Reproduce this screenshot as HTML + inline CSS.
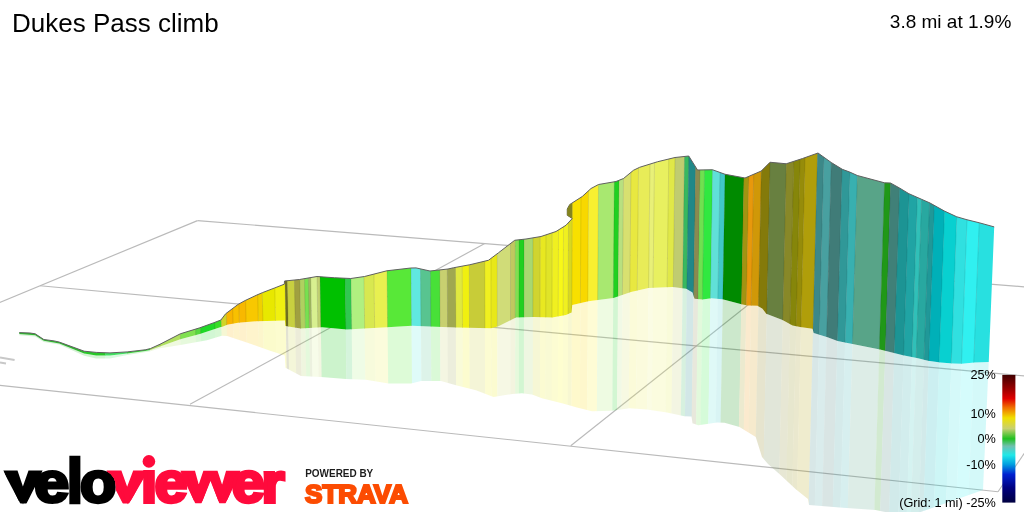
<!DOCTYPE html>
<html lang="en"><head><meta charset="utf-8"><title>Dukes Pass climb</title>
<style>html,body{margin:0;padding:0;background:#fff;overflow:hidden}svg{display:block}</style>
</head><body>
<svg width="1024" height="512" viewBox="0 0 1024 512">
<defs>
<clipPath id="cw"><polygon points="19.25,332.6 30,333 35.2,333.8 43.8,339.5 54.1,340.9 59.3,342.1 84.2,351.2 96.25,352.4 110,352.9 127.2,351.9 145.2,349.8 150.4,348.6 160,344.25 180.3,333.8 199.8,327.8 213.9,322.7 220.9,320 225.6,313.8 238.1,304.4 245.2,300.5 256.9,295 262.3,292.7 274.8,287.9 284.3,284.2 284.5,281 299.5,279.5 317,276.5 334.5,277.75 350.75,278.5 364.5,276.5 387,270.75 410.75,268 416,267.9 430,271 448,269 453.5,267.75 469.75,264.75 488.5,260.25 498.5,252.75 514.75,240.25 526,239 541,236.5 556,231.5 566,225.25 572.25,218.5 567.25,215.25 567.25,209 569.75,204.5 582.25,196.5 591,188.5 598.5,184.5 616,181.5 623.5,178.5 633.5,170.25 639.75,167.25 657.5,161.75 675,157.5 688.75,156 697.5,170 712.5,169.75 725,174.25 745,178 761.25,171 770,162.25 786.25,163.75 802.5,158.5 818,153 831.25,162.5 842.3,169.3 849.8,172.1 857.3,175.5 884.5,182.8 890.5,183 899.5,188 908.9,193.7 921.6,199.3 930,203 944.5,211.1 956.7,216.75 967,219.75 979.2,222.75 994.2,226.9 988.75,362 974.25,362.5 961.75,363.75 953,363.5 940.5,362.5 928,360.75 918,358.25 903,355.25 893,352.75 880,349.5 852.5,344 837.5,341 827.5,337.2 813.75,333.1 812.5,328.75 800,327 792.5,325.5 782.5,320 766.25,313.75 762.5,308.75 757.5,305.75 747.5,305.5 742.5,304.5 722.5,299.25 711.25,298.25 702.5,299.5 694.5,298.75 692.5,292.5 686.25,288.75 672.5,287 648.5,288 631,292 613.5,298 588.5,301.25 572.25,305 571.5,312.5 566,315 552.25,317.5 533.5,317 516,317.5 498.5,326.25 491,328.25 456,327.5 429.5,326.5 412,325.75 387,327.25 364.5,328.5 347,329.5 322,327.25 300.6,328.4 285.4,326 285,320.5 256.9,321.3 238.1,322.7 227.2,324.7 222.5,326.75 220.9,327 199.8,334.1 180.3,339.25 160,346.6 150.4,349.9 145.2,351 127.2,353.4 110,355.6 96.25,355.6 84.2,353.6 59.3,343.4 43.8,340.8 35.2,335.2 19.25,334"/></clipPath>
<clipPath id="cr"><polygon points="19.25,334 35.2,335.2 43.8,340.8 59.3,343.4 84.2,353.6 96.25,355.6 110,355.6 127.2,353.4 145.2,351 150.4,349.9 160,346.6 180.3,339.25 199.8,334.1 220.9,327 222.5,326.75 227.2,324.7 238.1,322.7 256.9,321.3 285,320.5 285.4,326 300.6,328.4 322,327.25 347,329.5 364.5,328.5 387,327.25 412,325.75 429.5,326.5 456,327.5 491,328.25 498.5,326.25 516,317.5 533.5,317 552.25,317.5 566,315 571.5,312.5 572.25,305 588.5,301.25 613.5,298 631,292 648.5,288 672.5,287 686.25,288.75 692.5,292.5 694.5,298.75 702.5,299.5 711.25,298.25 722.5,299.25 742.5,304.5 747.5,305.5 757.5,305.75 762.5,308.75 766.25,313.75 782.5,320 792.5,325.5 800,327 812.5,328.75 813.75,333.1 827.5,337.2 837.5,341 852.5,344 880,349.5 893,352.75 903,355.25 918,358.25 928,360.75 940.5,362.5 953,363.5 961.75,363.75 974.25,362.5 988.75,362 983,490 915,514 895,514 875.5,510 843,507.75 809,505 808,499 795.5,489 780.5,475 768,464 762,457 755.75,437 739.5,427 724.5,422.75 717,422.5 698.25,425.25 692.5,423.25 691.5,416.5 684.5,416.25 667,412.5 647,409.5 629.5,408.25 612,410.75 592,411.25 577,407.5 562,403.25 542,398.25 532,394.5 522,393.25 512,394 493.5,397 476,390.25 456,385.25 441,381 421,381 411,383.5 388.5,383.5 366,379.75 346,379 321,377 301,376 285.5,367.75 284.75,355.5 269.4,350.5 247.5,342.7 227.2,336.1 221.7,335.7 206.9,340.3 180.3,345 160,348.2 150.4,351.3 127.2,355 110,358.4 96.25,358.6 84.2,355.8 59.3,344.6 43.8,342 35.2,336.5 19.25,335.2"/></clipPath>
<linearGradient id="lg" x1="0" y1="0" x2="0" y2="1">
<stop offset="0" stop-color="#400000"/><stop offset="0.116" stop-color="#a00000"/><stop offset="0.186" stop-color="#e00000"/>
<stop offset="0.256" stop-color="#f07000"/><stop offset="0.337" stop-color="#f0e000"/><stop offset="0.42" stop-color="#c8d070"/>
<stop offset="0.5" stop-color="#20c020"/><stop offset="0.558" stop-color="#70c0b0"/><stop offset="0.628" stop-color="#20e8e8"/>
<stop offset="0.70" stop-color="#00a0e0"/><stop offset="0.78" stop-color="#0020d0"/><stop offset="0.884" stop-color="#000080"/>
<stop offset="1" stop-color="#000040"/></linearGradient>
<clipPath id="cv1"><polygon points="0,465 46,465 26,504.5 20.8,504.5"/></clipPath>
<clipPath id="co"><path clip-rule="evenodd" d="M0 440H300V512H0Z M80.35 486.7a17.7 17.4 0 1 0 35.4 0a17.7 17.4 0 1 0 -35.4 0Z"/></clipPath>
<clipPath id="cv2" clip-path="url(#co)"><polygon points="103,465 151.5,465 128.5,504.5 123.3,504.5"/></clipPath>
<clipPath id="ci1"><rect x="140" y="469.9" width="20" height="40"/></clipPath>
<clipPath id="cw1"><polygon points="177,465 244,465 225,504.5 219.8,504.5 210.5,481 201,504.5 195.8,504.5"/></clipPath>
</defs>
<rect width="1024" height="512" fill="#fff"/>
<g stroke="#bababa" stroke-width="1.15" fill="none">
<line x1="-10" y1="306.4" x2="197.5" y2="220.6"/>
<line x1="197.5" y1="220.6" x2="1030" y2="287.3"/>
<line x1="40" y1="285.8" x2="1030" y2="376.5"/>
<line x1="-10" y1="384.3" x2="998" y2="491.8"/>
<line x1="484.75" y1="243.5" x2="190" y2="404.3"/>
<line x1="770" y1="287.5" x2="570.75" y2="445.75"/>
<line x1="998" y1="491.8" x2="1030" y2="445"/>
</g>
<path d="M0 357.5L14.6 360M0 362.6L6 363.6" stroke="#c8c8c8" stroke-width="2" fill="none"/>
<g clip-path="url(#cr)"><g opacity="0.2">
<polygon points="16.81,280 81.72,280 90.41,520 26.8,520" fill="#2db82d"/>
<polygon points="81.42,280 102.8,280 111.06,520 90.11,520" fill="#28c828"/>
<polygon points="102.5,280 124.96,280 132.78,520 110.76,520" fill="#40e060"/>
<polygon points="124.66,280 148.2,280 155.55,520 132.48,520" fill="#38d038"/>
<polygon points="147.9,280 158.39,280 165.53,520 155.25,520" fill="#a8d860"/>
<polygon points="158.09,280 179.09,280 185.82,520 165.23,520" fill="#b0e060"/>
<polygon points="178.79,280 194.59,280 201,520 185.52,520" fill="#80e050"/>
<polygon points="194.29,280 199.65,280 205.96,520 200.7,520" fill="#58d840"/>
<polygon points="199.35,280 213.94,280 219.96,520 205.66,520" fill="#20d828"/>
<polygon points="213.64,280 220.58,280 226.47,520 219.66,520" fill="#38dc28"/>
<polygon points="220.28,280 225.9,280 231.68,520 226.17,520" fill="#d0d428"/>
<polygon points="225.6,280 232.33,280 237.98,520 231.38,520" fill="#f8b400"/>
<polygon points="232.03,280 238.65,280 244.17,520 237.68,520" fill="#f8c000"/>
<polygon points="238.35,280 245.44,280 250.83,520 243.87,520" fill="#f8b800"/>
<polygon points="245.14,280 257.69,280 262.83,520 250.53,520" fill="#f8c800"/>
<polygon points="257.39,280 262.33,280 267.38,520 262.53,520" fill="#f0d000"/>
<polygon points="262.03,280 274.94,280 279.73,520 267.08,520" fill="#e8e800"/>
<polygon points="274.64,280 285.28,280 289.86,520 279.43,520" fill="#f0f010"/>
<polygon points="284.98,280 287.59,280 292.12,520 289.56,520" fill="#707020"/>
<polygon points="287.29,280 294.7,280 299.09,520 291.82,520" fill="#c8d040"/>
<polygon points="294.4,280 300.11,280 304.39,520 298.79,520" fill="#a0a040"/>
<polygon points="299.81,280 304.82,280 309.01,520 304.09,520" fill="#b0d060"/>
<polygon points="304.52,280 308.73,280 312.84,520 308.71,520" fill="#78e050"/>
<polygon points="308.43,280 311.14,280 315.2,520 312.54,520" fill="#a0b860"/>
<polygon points="310.84,280 317.36,280 321.29,520 314.9,520" fill="#d8f090"/>
<polygon points="317.06,280 320.35,280 324.23,520 320.99,520" fill="#c0d070"/>
<polygon points="320.05,280 345.32,280 348.69,520 323.93,520" fill="#00c000"/>
<polygon points="345.02,280 351.32,280 354.57,520 348.39,520" fill="#30c850"/>
<polygon points="351.02,280 364.34,280 367.33,520 354.27,520" fill="#b0f080"/>
<polygon points="364.04,280 374.37,280 377.15,520 367.03,520" fill="#d8e850"/>
<polygon points="374.07,280 387.4,280 389.92,520 376.85,520" fill="#e8f050"/>
<polygon points="387.1,280 411.4,280 413.44,520 389.62,520" fill="#58e838"/>
<polygon points="411.1,280 420.89,280 422.73,520 413.14,520" fill="#60e8e0"/>
<polygon points="420.59,280 430.86,280 432.51,520 422.43,520" fill="#58c490"/>
<polygon points="430.56,280 440.11,280 441.57,520 432.21,520" fill="#48e038"/>
<polygon points="439.81,280 447.61,280 448.92,520 441.27,520" fill="#c8d070"/>
<polygon points="447.31,280 455.86,280 457,520 448.62,520" fill="#a0a850"/>
<polygon points="455.56,280 462.61,280 463.61,520 456.7,520" fill="#e0e840"/>
<polygon points="462.31,280 469.6,280 470.47,520 463.31,520" fill="#f0f010"/>
<polygon points="469.3,280 485.09,280 485.64,520 470.17,520" fill="#c8cc38"/>
<polygon points="484.79,280 491.34,280 491.76,520 485.34,520" fill="#f0f020"/>
<polygon points="491.04,280 497.58,280 497.88,520 491.46,520" fill="#e8e818"/>
<polygon points="497.28,280 510.8,280 510.83,520 497.58,520" fill="#d0dc78"/>
<polygon points="510.5,280 515.54,280 515.47,520 510.53,520" fill="#c0c860"/>
<polygon points="515.24,280 519.28,280 519.14,520 515.17,520" fill="#80e050"/>
<polygon points="518.98,280 524.26,280 524.02,520 518.84,520" fill="#20d020"/>
<polygon points="523.96,280 533.23,280 532.8,520 523.72,520" fill="#a8d870"/>
<polygon points="532.93,280 540.45,280 539.88,520 532.5,520" fill="#d0d430"/>
<polygon points="540.15,280 546.17,280 545.49,520 539.58,520" fill="#e8e820"/>
<polygon points="545.87,280 552.39,280 551.58,520 545.19,520" fill="#e0e428"/>
<polygon points="552.09,280 558.61,280 557.67,520 551.28,520" fill="#f0f020"/>
<polygon points="558.31,280 563.57,280 562.54,520 557.37,520" fill="#f8f818"/>
<polygon points="563.27,280 568.53,280 567.39,520 562.24,520" fill="#f0f020"/>
<polygon points="568.23,280 572.24,280 571.03,520 567.09,520" fill="#d8d820"/>
<polygon points="571.94,280 580.82,280 579.44,520 570.73,520" fill="#f8e000"/>
<polygon points="580.52,280 588.23,280 586.7,520 579.14,520" fill="#f8d800"/>
<polygon points="587.93,280 598.11,280 596.38,520 586.4,520" fill="#f8f030"/>
<polygon points="597.81,280 613.71,280 611.67,520 596.08,520" fill="#a8e870"/>
<polygon points="613.41,280 618.41,280 616.27,520 611.37,520" fill="#20d020"/>
<polygon points="618.11,280 622.86,280 620.62,520 615.97,520" fill="#b8e080"/>
<polygon points="622.56,280 630.23,280 627.85,520 620.32,520" fill="#d8e070"/>
<polygon points="629.93,280 637.62,280 635.09,520 627.55,520" fill="#e8e840"/>
<polygon points="637.32,280 648.97,280 646.21,520 634.79,520" fill="#e8ec58"/>
<polygon points="648.67,280 653.41,280 650.56,520 645.91,520" fill="#e8f078"/>
<polygon points="653.11,280 667.47,280 664.34,520 650.26,520" fill="#e8f060"/>
<polygon points="667.17,280 673.64,280 670.38,520 664.04,520" fill="#e0e848"/>
<polygon points="673.34,280 683.03,280 679.58,520 670.08,520" fill="#c0cc70"/>
<polygon points="682.73,280 687.23,280 683.7,520 679.28,520" fill="#38b860"/>
<polygon points="686.93,280 694.07,280 690.4,520 683.4,520" fill="#208888"/>
<polygon points="693.77,280 698.58,280 694.82,520 690.1,520" fill="#8a8a50"/>
<polygon points="698.28,280 703.03,280 699.18,520 694.52,520" fill="#70e050"/>
<polygon points="702.73,280 710.96,280 706.95,520 698.88,520" fill="#30e840"/>
<polygon points="710.66,280 718.44,280 714.28,520 706.65,520" fill="#60e0d8"/>
<polygon points="718.14,280 723.42,280 719.16,520 713.98,520" fill="#40c8c8"/>
<polygon points="723.12,280 742.07,280 737.44,520 718.86,520" fill="#008a00"/>
<polygon points="741.77,280 747,280 742.27,520 737.14,520" fill="#a29412"/>
<polygon points="746.7,280 751.92,280 747.08,520 741.97,520" fill="#e8980c"/>
<polygon points="751.62,280 759.29,280 754.3,520 746.78,520" fill="#d09808"/>
<polygon points="758.99,280 767.77,280 762.61,520 754,520" fill="#847a0a"/>
<polygon points="767.47,280 783.89,280 778.41,520 762.31,520" fill="#688040"/>
<polygon points="783.59,280 791.27,280 785.64,520 778.11,520" fill="#888828"/>
<polygon points="790.97,280 797.41,280 791.65,520 785.34,520" fill="#86860a"/>
<polygon points="797.11,280 802.32,280 796.46,520 791.35,520" fill="#968c0a"/>
<polygon points="802.02,280 814.58,280 808.48,520 796.16,520" fill="#b09e0a"/>
<polygon points="814.28,280 820.86,280 814.63,520 808.18,520" fill="#3c8888"/>
<polygon points="820.56,280 828.43,280 822.05,520 814.33,520" fill="#48a0a0"/>
<polygon points="828.13,280 839.25,280 832.65,520 821.75,520" fill="#407c78"/>
<polygon points="838.95,280 847.06,280 840.31,520 832.35,520" fill="#309898"/>
<polygon points="846.76,280 854.59,280 847.68,520 840.01,520" fill="#38b0b0"/>
<polygon points="854.29,280 881.78,280 874.32,520 847.38,520" fill="#58a488"/>
<polygon points="881.48,280 887.74,280 880.16,520 874.02,520" fill="#209818"/>
<polygon points="887.44,280 896.82,280 889.06,520 879.86,520" fill="#408078"/>
<polygon points="896.52,280 906.34,280 898.39,520 888.76,520" fill="#1c9494"/>
<polygon points="906.04,280 914.8,280 906.68,520 898.09,520" fill="#20a4a4"/>
<polygon points="914.5,280 919.14,280 910.93,520 906.38,520" fill="#30c0b8"/>
<polygon points="918.84,280 927.11,280 918.73,520 910.63,520" fill="#28a8a0"/>
<polygon points="926.81,280 931.87,280 923.4,520 918.43,520" fill="#209898"/>
<polygon points="931.57,280 942.31,280 933.63,520 923.1,520" fill="#00b0b8"/>
<polygon points="942.01,280 954.65,280 945.72,520 933.33,520" fill="#08d0d0"/>
<polygon points="954.35,280 965.01,280 955.87,520 945.42,520" fill="#30e0e0"/>
<polygon points="964.71,280 977.26,280 967.88,520 955.57,520" fill="#30f0f0"/>
<polygon points="976.96,280 994.15,280 984.42,520 967.58,520" fill="#28e0e0"/>
</g></g>
<g clip-path="url(#cw)">
<polygon points="10.98,140 76.66,140 85.35,380 20.97,380" fill="#2db82d"/>
<polygon points="76.36,140 97.97,140 106.24,380 85.05,380" fill="#28c828"/>
<polygon points="97.67,140 120.4,140 128.21,380 105.94,380" fill="#40e060"/>
<polygon points="120.1,140 143.91,140 151.26,380 127.91,380" fill="#38d038"/>
<polygon points="143.61,140 154.22,140 161.36,380 150.96,380" fill="#a8d860"/>
<polygon points="153.92,140 175.17,140 181.89,380 161.06,380" fill="#b0e060"/>
<polygon points="174.87,140 190.85,140 197.26,380 181.59,380" fill="#80e050"/>
<polygon points="190.55,140 195.97,140 202.28,380 196.96,380" fill="#58d840"/>
<polygon points="195.67,140 210.42,140 216.45,380 201.98,380" fill="#20d828"/>
<polygon points="210.12,140 217.15,140 223.03,380 216.15,380" fill="#38dc28"/>
<polygon points="216.85,140 222.53,140 228.31,380 222.73,380" fill="#d0d428"/>
<polygon points="222.23,140 229.03,140 234.68,380 228.01,380" fill="#f8b400"/>
<polygon points="228.73,140 235.43,140 240.95,380 234.38,380" fill="#f8c000"/>
<polygon points="235.13,140 242.3,140 247.69,380 240.65,380" fill="#f8b800"/>
<polygon points="242,140 254.69,140 259.83,380 247.39,380" fill="#f8c800"/>
<polygon points="254.39,140 259.39,140 264.44,380 259.53,380" fill="#f0d000"/>
<polygon points="259.09,140 272.15,140 276.94,380 264.14,380" fill="#e8e800"/>
<polygon points="271.85,140 282.61,140 287.19,380 276.64,380" fill="#f0f010"/>
<polygon points="282.31,140 284.94,140 289.48,380 286.89,380" fill="#707020"/>
<polygon points="284.64,140 292.14,140 296.53,380 289.18,380" fill="#c8d040"/>
<polygon points="291.84,140 297.61,140 301.89,380 296.23,380" fill="#a0a040"/>
<polygon points="297.31,140 302.38,140 306.57,380 301.59,380" fill="#b0d060"/>
<polygon points="302.08,140 306.34,140 310.45,380 306.27,380" fill="#78e050"/>
<polygon points="306.04,140 308.77,140 312.83,380 310.15,380" fill="#a0b860"/>
<polygon points="308.47,140 315.06,140 319,380 312.53,380" fill="#d8f090"/>
<polygon points="314.76,140 318.09,140 321.97,380 318.7,380" fill="#c0d070"/>
<polygon points="317.79,140 343.36,140 346.73,380 321.67,380" fill="#00c000"/>
<polygon points="343.06,140 349.43,140 352.67,380 346.43,380" fill="#30c850"/>
<polygon points="349.13,140 362.6,140 365.59,380 352.37,380" fill="#b0f080"/>
<polygon points="362.3,140 372.74,140 375.53,380 365.29,380" fill="#d8e850"/>
<polygon points="372.44,140 385.93,140 388.45,380 375.23,380" fill="#e8f050"/>
<polygon points="385.63,140 410.21,140 412.25,380 388.15,380" fill="#58e838"/>
<polygon points="409.91,140 419.81,140 421.65,380 411.95,380" fill="#60e8e0"/>
<polygon points="419.51,140 429.9,140 431.55,380 421.35,380" fill="#58c490"/>
<polygon points="429.6,140 439.26,140 440.72,380 431.25,380" fill="#48e038"/>
<polygon points="438.96,140 446.85,140 448.15,380 440.42,380" fill="#c8d070"/>
<polygon points="446.55,140 455.2,140 456.33,380 447.85,380" fill="#a0a850"/>
<polygon points="454.9,140 462.02,140 463.03,380 456.03,380" fill="#e0e840"/>
<polygon points="461.72,140 469.1,140 469.96,380 462.73,380" fill="#f0f010"/>
<polygon points="468.8,140 484.77,140 485.32,380 469.66,380" fill="#c8cc38"/>
<polygon points="484.47,140 491.09,140 491.51,380 485.02,380" fill="#f0f020"/>
<polygon points="490.79,140 497.41,140 497.71,380 491.21,380" fill="#e8e818"/>
<polygon points="497.11,140 510.79,140 510.82,380 497.41,380" fill="#d0dc78"/>
<polygon points="510.49,140 515.58,140 515.51,380 510.52,380" fill="#c0c860"/>
<polygon points="515.28,140 519.36,140 519.22,380 515.21,380" fill="#80e050"/>
<polygon points="519.06,140 524.4,140 524.16,380 518.92,380" fill="#20d020"/>
<polygon points="524.1,140 533.47,140 533.05,380 523.86,380" fill="#a8d870"/>
<polygon points="533.17,140 540.78,140 540.21,380 532.75,380" fill="#d0d430"/>
<polygon points="540.48,140 546.57,140 545.89,380 539.91,380" fill="#e8e820"/>
<polygon points="546.27,140 552.86,140 552.05,380 545.59,380" fill="#e0e428"/>
<polygon points="552.56,140 559.15,140 558.22,380 551.75,380" fill="#f0f020"/>
<polygon points="558.85,140 564.17,140 563.14,380 557.92,380" fill="#f8f818"/>
<polygon points="563.87,140 569.19,140 568.06,380 562.84,380" fill="#f0f020"/>
<polygon points="568.89,140 572.95,140 571.74,380 567.76,380" fill="#d8d820"/>
<polygon points="572.65,140 581.63,140 580.25,380 571.44,380" fill="#f8e000"/>
<polygon points="581.33,140 589.12,140 587.59,380 579.95,380" fill="#f8d800"/>
<polygon points="588.82,140 599.12,140 597.39,380 587.29,380" fill="#f8f030"/>
<polygon points="598.82,140 614.91,140 612.86,380 597.09,380" fill="#a8e870"/>
<polygon points="614.61,140 619.66,140 617.52,380 612.56,380" fill="#20d020"/>
<polygon points="619.36,140 624.16,140 621.93,380 617.22,380" fill="#b8e080"/>
<polygon points="623.86,140 631.62,140 629.24,380 621.63,380" fill="#d8e070"/>
<polygon points="631.32,140 639.09,140 636.56,380 628.94,380" fill="#e8e840"/>
<polygon points="638.79,140 650.58,140 647.82,380 636.26,380" fill="#e8ec58"/>
<polygon points="650.28,140 655.07,140 652.22,380 647.52,380" fill="#e8f078"/>
<polygon points="654.77,140 669.3,140 666.17,380 651.92,380" fill="#e8f060"/>
<polygon points="669,140 675.54,140 672.28,380 665.87,380" fill="#e0e848"/>
<polygon points="675.24,140 685.04,140 681.59,380 671.98,380" fill="#c0cc70"/>
<polygon points="684.74,140 689.29,140 685.75,380 681.29,380" fill="#38b860"/>
<polygon points="688.99,140 696.21,140 692.54,380 685.45,380" fill="#208888"/>
<polygon points="695.91,140 700.77,140 697.01,380 692.24,380" fill="#8a8a50"/>
<polygon points="700.47,140 705.28,140 701.43,380 696.71,380" fill="#70e050"/>
<polygon points="704.98,140 713.3,140 709.29,380 701.13,380" fill="#30e840"/>
<polygon points="713,140 720.86,140 716.7,380 708.99,380" fill="#60e0d8"/>
<polygon points="720.56,140 725.91,140 721.65,380 716.4,380" fill="#40c8c8"/>
<polygon points="725.61,140 744.78,140 740.14,380 721.35,380" fill="#008a00"/>
<polygon points="744.48,140 749.77,140 745.03,380 739.84,380" fill="#a29412"/>
<polygon points="749.47,140 754.74,140 749.9,380 744.73,380" fill="#e8980c"/>
<polygon points="754.44,140 762.19,140 757.21,380 749.6,380" fill="#d09808"/>
<polygon points="761.89,140 770.78,140 765.62,380 756.91,380" fill="#847a0a"/>
<polygon points="770.48,140 787.09,140 781.61,380 765.32,380" fill="#688040"/>
<polygon points="786.79,140 794.55,140 788.92,380 781.31,380" fill="#888828"/>
<polygon points="794.25,140 800.76,140 795.01,380 788.62,380" fill="#86860a"/>
<polygon points="800.46,140 805.73,140 799.88,380 794.71,380" fill="#968c0a"/>
<polygon points="805.43,140 818.13,140 812.03,380 799.58,380" fill="#b09e0a"/>
<polygon points="817.83,140 824.49,140 818.27,380 811.73,380" fill="#3c8888"/>
<polygon points="824.19,140 832.15,140 825.77,380 817.97,380" fill="#48a0a0"/>
<polygon points="831.85,140 843.1,140 836.5,380 825.47,380" fill="#407c78"/>
<polygon points="842.8,140 851,140 844.25,380 836.2,380" fill="#309898"/>
<polygon points="850.7,140 858.62,140 851.71,380 843.95,380" fill="#38b0b0"/>
<polygon points="858.32,140 886.13,140 878.67,380 851.41,380" fill="#58a488"/>
<polygon points="885.83,140 892.16,140 884.58,380 878.37,380" fill="#209818"/>
<polygon points="891.86,140 901.35,140 893.59,380 884.28,380" fill="#408078"/>
<polygon points="901.05,140 910.98,140 903.03,380 893.29,380" fill="#1c9494"/>
<polygon points="910.68,140 919.54,140 911.42,380 902.73,380" fill="#20a4a4"/>
<polygon points="919.24,140 923.93,140 915.72,380 911.12,380" fill="#30c0b8"/>
<polygon points="923.63,140 931.99,140 923.62,380 915.42,380" fill="#28a8a0"/>
<polygon points="931.69,140 936.81,140 928.34,380 923.32,380" fill="#209898"/>
<polygon points="936.51,140 947.37,140 938.69,380 928.04,380" fill="#00b0b8"/>
<polygon points="947.07,140 959.86,140 950.93,380 938.39,380" fill="#08d0d0"/>
<polygon points="959.56,140 970.34,140 961.2,380 950.63,380" fill="#30e0e0"/>
<polygon points="970.04,140 982.74,140 973.35,380 960.9,380" fill="#30f0f0"/>
<polygon points="982.44,140 999.82,140 990.1,380 973.05,380" fill="#28e0e0"/>
<g stroke="#000" stroke-opacity="0.13" stroke-width="0.8">
<line x1="153.92" y1="140" x2="161.06" y2="380"/>
<line x1="174.87" y1="140" x2="181.59" y2="380"/>
<line x1="190.55" y1="140" x2="196.96" y2="380"/>
<line x1="195.67" y1="140" x2="201.98" y2="380"/>
<line x1="210.12" y1="140" x2="216.15" y2="380"/>
<line x1="216.85" y1="140" x2="222.73" y2="380"/>
<line x1="222.23" y1="140" x2="228.01" y2="380"/>
<line x1="228.73" y1="140" x2="234.38" y2="380"/>
<line x1="235.13" y1="140" x2="240.65" y2="380"/>
<line x1="242" y1="140" x2="247.39" y2="380"/>
<line x1="254.39" y1="140" x2="259.53" y2="380"/>
<line x1="259.09" y1="140" x2="264.14" y2="380"/>
<line x1="271.85" y1="140" x2="276.64" y2="380"/>
<line x1="282.31" y1="140" x2="286.89" y2="380"/>
<line x1="284.64" y1="140" x2="289.18" y2="380"/>
<line x1="291.84" y1="140" x2="296.23" y2="380"/>
<line x1="297.31" y1="140" x2="301.59" y2="380"/>
<line x1="302.08" y1="140" x2="306.27" y2="380"/>
<line x1="306.04" y1="140" x2="310.15" y2="380"/>
<line x1="308.47" y1="140" x2="312.53" y2="380"/>
<line x1="314.76" y1="140" x2="318.7" y2="380"/>
<line x1="317.79" y1="140" x2="321.67" y2="380"/>
<line x1="343.06" y1="140" x2="346.43" y2="380"/>
<line x1="349.13" y1="140" x2="352.37" y2="380"/>
<line x1="362.3" y1="140" x2="365.29" y2="380"/>
<line x1="372.44" y1="140" x2="375.23" y2="380"/>
<line x1="385.63" y1="140" x2="388.15" y2="380"/>
<line x1="409.91" y1="140" x2="411.95" y2="380"/>
<line x1="419.51" y1="140" x2="421.35" y2="380"/>
<line x1="429.6" y1="140" x2="431.25" y2="380"/>
<line x1="438.96" y1="140" x2="440.42" y2="380"/>
<line x1="446.55" y1="140" x2="447.85" y2="380"/>
<line x1="454.9" y1="140" x2="456.03" y2="380"/>
<line x1="461.72" y1="140" x2="462.73" y2="380"/>
<line x1="468.8" y1="140" x2="469.66" y2="380"/>
<line x1="484.47" y1="140" x2="485.02" y2="380"/>
<line x1="490.79" y1="140" x2="491.21" y2="380"/>
<line x1="497.11" y1="140" x2="497.41" y2="380"/>
<line x1="510.49" y1="140" x2="510.52" y2="380"/>
<line x1="515.28" y1="140" x2="515.21" y2="380"/>
<line x1="519.06" y1="140" x2="518.92" y2="380"/>
<line x1="524.1" y1="140" x2="523.86" y2="380"/>
<line x1="533.17" y1="140" x2="532.75" y2="380"/>
<line x1="540.48" y1="140" x2="539.91" y2="380"/>
<line x1="546.27" y1="140" x2="545.59" y2="380"/>
<line x1="552.56" y1="140" x2="551.75" y2="380"/>
<line x1="558.85" y1="140" x2="557.92" y2="380"/>
<line x1="563.87" y1="140" x2="562.84" y2="380"/>
<line x1="568.89" y1="140" x2="567.76" y2="380"/>
<line x1="572.65" y1="140" x2="571.44" y2="380"/>
<line x1="581.33" y1="140" x2="579.95" y2="380"/>
<line x1="588.82" y1="140" x2="587.29" y2="380"/>
<line x1="598.82" y1="140" x2="597.09" y2="380"/>
<line x1="614.61" y1="140" x2="612.56" y2="380"/>
<line x1="619.36" y1="140" x2="617.22" y2="380"/>
<line x1="623.86" y1="140" x2="621.63" y2="380"/>
<line x1="631.32" y1="140" x2="628.94" y2="380"/>
<line x1="638.79" y1="140" x2="636.26" y2="380"/>
<line x1="650.28" y1="140" x2="647.52" y2="380"/>
<line x1="654.77" y1="140" x2="651.92" y2="380"/>
<line x1="669" y1="140" x2="665.87" y2="380"/>
<line x1="675.24" y1="140" x2="671.98" y2="380"/>
<line x1="684.74" y1="140" x2="681.29" y2="380"/>
<line x1="688.99" y1="140" x2="685.45" y2="380"/>
<line x1="695.91" y1="140" x2="692.24" y2="380"/>
<line x1="700.47" y1="140" x2="696.71" y2="380"/>
<line x1="704.98" y1="140" x2="701.13" y2="380"/>
<line x1="713" y1="140" x2="708.99" y2="380"/>
<line x1="720.56" y1="140" x2="716.4" y2="380"/>
<line x1="725.61" y1="140" x2="721.35" y2="380"/>
<line x1="744.48" y1="140" x2="739.84" y2="380"/>
<line x1="749.47" y1="140" x2="744.73" y2="380"/>
<line x1="754.44" y1="140" x2="749.6" y2="380"/>
<line x1="761.89" y1="140" x2="756.91" y2="380"/>
<line x1="770.48" y1="140" x2="765.32" y2="380"/>
<line x1="786.79" y1="140" x2="781.31" y2="380"/>
<line x1="794.25" y1="140" x2="788.62" y2="380"/>
<line x1="800.46" y1="140" x2="794.71" y2="380"/>
<line x1="805.43" y1="140" x2="799.58" y2="380"/>
<line x1="817.83" y1="140" x2="811.73" y2="380"/>
<line x1="824.19" y1="140" x2="817.97" y2="380"/>
<line x1="831.85" y1="140" x2="825.47" y2="380"/>
<line x1="842.8" y1="140" x2="836.2" y2="380"/>
<line x1="850.7" y1="140" x2="843.95" y2="380"/>
<line x1="858.32" y1="140" x2="851.41" y2="380"/>
<line x1="885.83" y1="140" x2="878.37" y2="380"/>
<line x1="891.86" y1="140" x2="884.28" y2="380"/>
<line x1="901.05" y1="140" x2="893.29" y2="380"/>
<line x1="910.68" y1="140" x2="902.73" y2="380"/>
<line x1="919.24" y1="140" x2="911.12" y2="380"/>
<line x1="923.63" y1="140" x2="915.42" y2="380"/>
<line x1="931.69" y1="140" x2="923.32" y2="380"/>
<line x1="936.51" y1="140" x2="928.04" y2="380"/>
<line x1="947.07" y1="140" x2="938.39" y2="380"/>
<line x1="959.56" y1="140" x2="950.63" y2="380"/>
<line x1="970.04" y1="140" x2="960.9" y2="380"/>
<line x1="982.44" y1="140" x2="973.05" y2="380"/>
</g>
</g>
<polyline points="19.25,332.6 30,333 35.2,333.8 43.8,339.5 54.1,340.9 59.3,342.1 84.2,351.2 96.25,352.4 110,352.9 127.2,351.9 145.2,349.8 150.4,348.6 160,344.25 180.3,333.8 199.8,327.8 213.9,322.7 220.9,320 225.6,313.8 238.1,304.4 245.2,300.5 256.9,295 262.3,292.7 274.8,287.9 284.3,284.2 284.5,281 299.5,279.5 317,276.5 334.5,277.75 350.75,278.5 364.5,276.5 387,270.75 410.75,268 416,267.9 430,271 448,269 453.5,267.75 469.75,264.75 488.5,260.25 498.5,252.75 514.75,240.25 526,239 541,236.5 556,231.5 566,225.25 572.25,218.5 567.25,215.25 567.25,209 569.75,204.5 582.25,196.5 591,188.5 598.5,184.5 616,181.5 623.5,178.5 633.5,170.25 639.75,167.25 657.5,161.75 675,157.5 688.75,156 697.5,170 712.5,169.75 725,174.25 745,178 761.25,171 770,162.25 786.25,163.75 802.5,158.5 818,153 831.25,162.5 842.3,169.3 849.8,172.1 857.3,175.5 884.5,182.8 890.5,183 899.5,188 908.9,193.7 921.6,199.3 930,203 944.5,211.1 956.7,216.75 967,219.75 979.2,222.75 994.2,226.9" fill="none" stroke="#606060" stroke-width="1" stroke-linejoin="round"/>
<rect x="1002.3" y="374.9" width="13.1" height="127.7" fill="url(#lg)"/>
<g font-family="'Liberation Sans', sans-serif" font-size="12.7" fill="#000" text-anchor="end">
<text x="995.8" y="379">25%</text>
<text x="995.8" y="417.7">10%</text>
<text x="995.8" y="443.2">0%</text>
<text x="995.8" y="468.8">-10%</text>
<text x="995.8" y="507">(Grid: 1 mi) -25%</text>
</g>
<text x="12" y="32" font-family="'Liberation Sans', sans-serif" font-size="26" fill="#000">Dukes Pass climb</text>
<text x="1011.3" y="27.7" text-anchor="end" font-family="'Liberation Sans', sans-serif" font-size="19" fill="#000">3.8 mi at 1.9%</text>
<g font-family="'Liberation Sans', sans-serif" font-weight="bold" font-size="60" stroke-linejoin="miter"><g clip-path="url(#cv1)"><text transform="translate(7.07,500.9) scale(0.9580,0.8965)" vector-effect="non-scaling-stroke" stroke-width="5.2" fill="#000" stroke="#000">v</text></g><text transform="translate(34.25,501.63) scale(1.0473,0.9428)" vector-effect="non-scaling-stroke" stroke-width="3.4" fill="#000" stroke="#000">e</text><text transform="translate(67.47,501.5) scale(0.8881,1.0161)" vector-effect="non-scaling-stroke" stroke-width="4" fill="#000" stroke="#000">l</text><text transform="translate(79.88,501.63) scale(0.9912,0.9428)" vector-effect="non-scaling-stroke" stroke-width="3.4" fill="#000" stroke="#000">o</text><g clip-path="url(#cv2)"><text transform="translate(110.16,500.9) scale(1.0189,0.8965)" vector-effect="non-scaling-stroke" stroke-width="5.2" fill="#ff0a3c" stroke="#ff0a3c">v</text></g><g clip-path="url(#ci1)"><text transform="translate(141.37,501.5) scale(0.9367,1.0161)" vector-effect="non-scaling-stroke" stroke-width="4" fill="#ff0a3c" stroke="#ff0a3c">i</text></g><text transform="translate(154.39,501.63) scale(0.9869,0.9428)" vector-effect="non-scaling-stroke" stroke-width="3.4" fill="#ff0a3c" stroke="#ff0a3c">e</text><g clip-path="url(#cw1)"><text transform="translate(184.3,501) scale(1.1239,0.9028)" vector-effect="non-scaling-stroke" stroke-width="5" fill="#ff0a3c" stroke="#ff0a3c">w</text></g><text transform="translate(231.68,501.63) scale(0.9903,0.9428)" vector-effect="non-scaling-stroke" stroke-width="3.4" fill="#ff0a3c" stroke="#ff0a3c">e</text><text transform="translate(261.76,501.5) scale(0.9686,0.9276)" vector-effect="non-scaling-stroke" stroke-width="4" fill="#ff0a3c" stroke="#ff0a3c">r</text></g>
<circle cx="148.9" cy="461.4" r="6.3" fill="#ff0a3c"/>
<text transform="translate(305.2,476.8) scale(0.968,1)" font-family="'Liberation Sans', sans-serif" font-weight="bold" font-size="10.3" fill="#1c1c1c">POWERED BY</text>
<text transform="translate(305.1,502.5) scale(1.027,1)" vector-effect="non-scaling-stroke" font-family="'Liberation Sans', sans-serif" font-weight="bold" font-size="25.3" fill="#fc4c02" stroke="#fc4c02" stroke-width="2.2" stroke-linejoin="miter">STRAVA</text>
<polygon points="567.25,209 567.25,215.25 572.25,218.5 572.25,203.5 569.75,204.5" fill="#84841e"/>
</svg>
</body></html>
